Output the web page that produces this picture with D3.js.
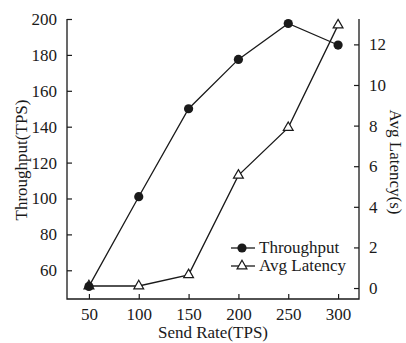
<!DOCTYPE html>
<html><head><meta charset="utf-8">
<script src="https://cdn.jsdelivr.net/npm/d3@7"></script>
<style>body{margin:0;background:#fff}svg{display:block}</style>
</head><body>
<script>
const sendRates = [50, 100, 150, 200, 250, 300];
const throughput = [51, 101, 150, 177.5, 197.5, 185.5];
const latency = [0.1, 0.1, 0.65, 5.55, 7.9, 12.95];
const xTicks = [50, 100, 150, 200, 250, 300];
const yLeftTicks = [60, 80, 100, 120, 140, 160, 180, 200];
const yRightTicks = [0, 2, 4, 6, 8, 10, 12];

const W = 406, H = 343;
const L = 67, R = 359, T = 19, B = 299;
const ink = "#1a1a1a";
const font = "'Liberation Serif','Times New Roman',serif";

const svg = d3.select("body").append("svg").attr("width", W).attr("height", H)
  .style("font-family", font);

const x = d3.scaleLinear().domain([28, 321]).range([L, R]);
const yL = d3.scaleLinear().domain([44, 200]).range([B, T]);
const yR = d3.scaleLinear().domain([-0.54, 13.25]).range([B, T]);

function styleAxis(g){
  g.select(".domain").remove();
  g.selectAll("line").attr("stroke", ink).attr("stroke-width", 1.2);
  g.selectAll("text").attr("fill", ink).style("font-size", "17px").style("font-family", font);
}

svg.append("g").attr("transform", `translate(0,${B})`)
  .call(d3.axisBottom(x).tickValues(xTicks).tickSizeInner(-5).tickSizeOuter(0).tickPadding(9))
  .call(styleAxis);
svg.append("g").attr("transform", `translate(${L},0)`)
  .call(d3.axisLeft(yL).tickValues(yLeftTicks).tickSizeInner(-5).tickSizeOuter(0).tickPadding(10))
  .call(styleAxis);
svg.append("g").attr("transform", `translate(${R},0)`)
  .call(d3.axisRight(yR).tickValues(yRightTicks).tickSizeInner(-5).tickSizeOuter(0).tickPadding(10))
  .call(styleAxis);

// frame (left, bottom, right)
svg.append("path").attr("d", `M${L},${T}V${B}H${R}V${T}`)
  .attr("fill", "none").attr("stroke", ink).attr("stroke-width", 1.3);

const lineL = d3.line().x((d,i)=>x(sendRates[i])).y(d=>yL(d));
const lineR = d3.line().x((d,i)=>x(sendRates[i])).y(d=>yR(d));

const tri = d3.symbol().type(d3.symbolTriangle).size(42);

// latency
svg.append("path").datum(latency).attr("d", lineR)
  .attr("fill", "none").attr("stroke", ink).attr("stroke-width", 1.3);
svg.selectAll(".tri").data(latency).enter().append("path")
  .attr("d", tri).attr("transform", (d,i)=>`translate(${x(sendRates[i])},${yR(d)})`)
  .attr("fill", "#fff").attr("stroke", ink).attr("stroke-width", 1.2);

// throughput
svg.append("path").datum(throughput).attr("d", lineL)
  .attr("fill", "none").attr("stroke", ink).attr("stroke-width", 1.3);
svg.selectAll(".dot").data(throughput).enter().append("circle")
  .attr("cx", (d,i)=>x(sendRates[i])).attr("cy", d=>yL(d)).attr("r", 4.6)
  .attr("fill", ink);

// axis titles
svg.append("text").attr("x", (L+R)/2).attr("y", 338).attr("text-anchor", "middle")
  .style("font-size", "17px").attr("fill", ink).text("Send Rate(TPS)");
svg.append("text").attr("transform", `translate(27,${(T+B)/2 + 1}) rotate(-90)`)
  .attr("text-anchor", "middle").style("font-size", "17px").attr("fill", ink).text("Throughput(TPS)");
svg.append("text").attr("transform", `translate(390,${(T+B)/2 + 3}) rotate(90)`)
  .attr("text-anchor", "middle").style("font-size", "17px").attr("fill", ink).text("Avg Latency(s)");

// legend
const leg = [{label:"Throughput", type:"circle", y:248},{label:"Avg Latency", type:"tri", y:266}];
leg.forEach(d=>{
  svg.append("line").attr("x1", 231).attr("x2", 255).attr("y1", d.y).attr("y2", d.y)
    .attr("stroke", ink).attr("stroke-width", 1.3);
  if(d.type==="circle"){
    svg.append("circle").attr("cx", 242).attr("cy", d.y).attr("r", 4.6).attr("fill", ink);
  } else {
    svg.append("path").attr("d", tri).attr("transform", `translate(242,${d.y})`)
      .attr("fill", "#fff").attr("stroke", ink).attr("stroke-width", 1.2);
  }
  svg.append("text").attr("x", 259).attr("y", d.y + 5).style("font-size", "17px")
    .attr("fill", ink).text(d.label);
});
</script>
</body></html>
